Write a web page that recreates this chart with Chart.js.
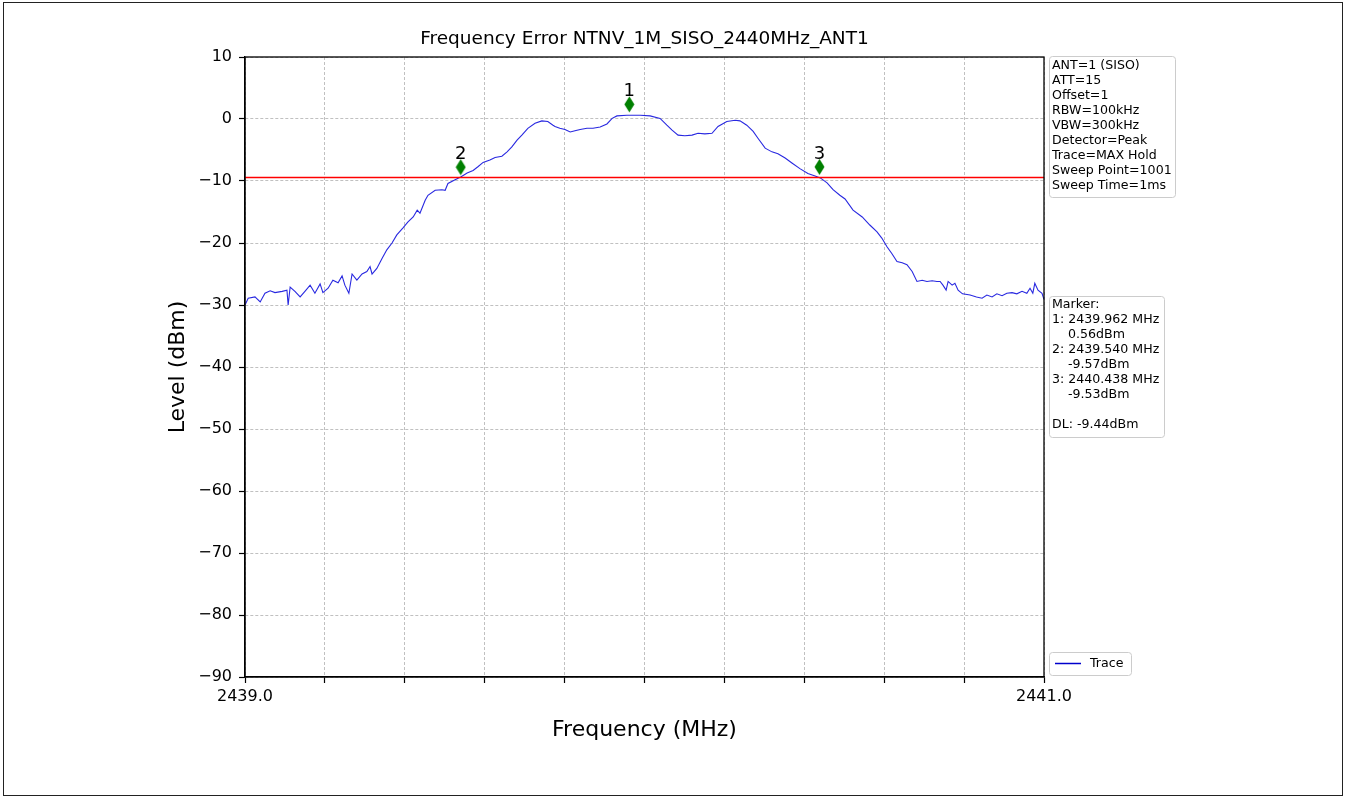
<!DOCTYPE html>
<html>
<head>
<meta charset="utf-8">
<script src="https://cdn.jsdelivr.net/npm/chart.js@4/dist/chart.umd.min.js"></script>
<style>
  html, body { margin: 0; padding: 0; background: #fff; }
  #wrap { position: relative; width: 1345px; height: 798px; }
  #frame { position: absolute; left: 3px; top: 2px; width: 1338px; height: 792px; border: 1px solid #222; pointer-events: none; }
</style>
</head>
<body>
<div id="wrap">
  <canvas id="c" width="1345" height="798"></canvas>
  <div id="frame"></div>
</div>
<script>
// ---- data ----
const chartTitle = "Frequency Error NTNV_1M_SISO_2440MHz_ANT1";
const xAxisTitle = "Frequency (MHz)";
const yAxisTitle = "Level (dBm)";

const freqMHz = [
  2439.000, 2439.008, 2439.025, 2439.038, 2439.050, 2439.063, 2439.075, 2439.093, 2439.105, 2439.108,
  2439.113, 2439.125, 2439.138, 2439.150, 2439.163, 2439.175, 2439.188, 2439.195, 2439.208, 2439.220,
  2439.233, 2439.243, 2439.250, 2439.260, 2439.268, 2439.280, 2439.293, 2439.305, 2439.313, 2439.318,
  2439.330, 2439.343, 2439.355, 2439.368, 2439.380, 2439.395, 2439.408, 2439.421, 2439.431, 2439.438,
  2439.451, 2439.458, 2439.476, 2439.493, 2439.501, 2439.508, 2439.526, 2439.541, 2439.556, 2439.571,
  2439.583, 2439.596, 2439.613, 2439.626, 2439.643, 2439.656, 2439.668, 2439.681, 2439.693, 2439.708,
  2439.726, 2439.743, 2439.758, 2439.771, 2439.776, 2439.788, 2439.801, 2439.814, 2439.826, 2439.839,
  2439.856, 2439.871, 2439.889, 2439.906, 2439.919, 2439.931, 2439.956, 2439.989, 2440.014, 2440.039,
  2440.056, 2440.069, 2440.084, 2440.101, 2440.119, 2440.134, 2440.151, 2440.169, 2440.184, 2440.206,
  2440.227, 2440.239, 2440.256, 2440.272, 2440.284, 2440.302, 2440.319, 2440.334, 2440.352, 2440.369,
  2440.389, 2440.409, 2440.427, 2440.440, 2440.457, 2440.472, 2440.489, 2440.502, 2440.522, 2440.545,
  2440.564, 2440.582, 2440.594, 2440.607, 2440.619, 2440.632, 2440.645, 2440.657, 2440.670, 2440.682,
  2440.695, 2440.707, 2440.720, 2440.732, 2440.740, 2440.747, 2440.755, 2440.760, 2440.770, 2440.777,
  2440.785, 2440.796, 2440.815, 2440.831, 2440.845, 2440.857, 2440.870, 2440.882, 2440.895, 2440.907,
  2440.920, 2440.932, 2440.945, 2440.957, 2440.965, 2440.972, 2440.977, 2440.985, 2440.995, 2441.000
];
const levelDbm = [
  -30.0, -28.9, -28.7, -29.5, -28.1, -27.7, -28.0, -27.8, -27.6, -30.0,
  -27.1, -27.8, -28.7, -27.8, -26.8, -28.1, -26.6, -28.0, -27.3, -26.0,
  -26.4, -25.3, -26.8, -28.1, -25.0, -26.0, -25.0, -24.6, -23.8, -25.0,
  -24.1, -22.5, -21.1, -20.0, -18.7, -17.6, -16.6, -15.8, -14.7, -15.2,
  -13.1, -12.3, -11.5, -11.4, -11.5, -10.4, -9.8, -9.3, -8.7, -8.3,
  -7.7, -7.0, -6.6, -6.2, -6.0, -5.3, -4.5, -3.4, -2.6, -1.5,
  -0.7, -0.3, -0.4, -1.0, -1.2, -1.5, -1.7, -2.1, -1.9, -1.7,
  -1.5, -1.5, -1.3, -0.8, 0.1, 0.5, 0.6, 0.6, 0.5, 0.1,
  -1.0, -1.8, -2.6, -2.7, -2.6, -2.3, -2.4, -2.3, -1.2, -0.4,
  -0.2, -0.3, -1.0, -2.0, -3.1, -4.7, -5.3, -5.6, -6.3, -7.1,
  -8.0, -8.8, -9.2, -9.5, -10.3, -11.4, -12.3, -12.9, -14.7, -15.8,
  -17.1, -18.2, -19.2, -20.6, -21.7, -23.0, -23.2, -23.5, -24.6, -26.2,
  -26.0, -26.2, -26.1, -26.2, -26.2, -26.8, -27.6, -26.2, -26.8, -26.5,
  -27.6, -28.2, -28.4, -28.7, -28.9, -28.4, -28.7, -28.2, -28.5, -28.1,
  -28.0, -28.2, -27.8, -28.1, -27.3, -28.1, -26.5, -27.6, -28.1, -29.1
];

const markerIds = ["1", "2", "3"];
const markerFreqMHz = [2439.962, 2439.540, 2440.438];
const markerLevelDbm = [0.56, -9.57, -9.53];
const displayLineDbm = -9.44;

const xMin = 2439.0, xMax = 2441.0, xStep = 0.2;
const xTickLabels = ["2439.0", "2441.0"];
const yMin = -90, yMax = 10, yStep = 10;

const settingsLines = [
  "ANT=1 (SISO)", "ATT=15", "Offset=1", "RBW=100kHz", "VBW=300kHz",
  "Detector=Peak", "Trace=MAX Hold", "Sweep Point=1001", "Sweep Time=1ms"
];
const legendLabel = "Trace";

// ---- derived ----
const markerLift = 1.8; // diamond drawn slightly above the marker level (dB)
const markerLines = ["Marker:"];
markerIds.forEach((id, i) => {
  markerLines.push(id + ": " + markerFreqMHz[i].toFixed(3) + " MHz");
  markerLines.push("    " + markerLevelDbm[i].toFixed(2) + "dBm");
});
markerLines.push("");
markerLines.push("DL: " + displayLineDbm.toFixed(2) + "dBm");

const FONT = "'DejaVu Sans', 'Liberation Sans', sans-serif";

// thin diamond point image
const dia = document.createElement('canvas');
dia.width = 11; dia.height = 17;
(function () {
  const g = dia.getContext('2d');
  g.fillStyle = '#008000';
  g.beginPath();
  g.moveTo(5.5, 0.5); g.lineTo(10.5, 8.5); g.lineTo(5.5, 16.5); g.lineTo(0.5, 8.5); g.closePath();
  g.fill();
})();

function roundRect(ctx, x, y, w, h, r) {
  ctx.beginPath();
  ctx.moveTo(x + r, y);
  ctx.lineTo(x + w - r, y); ctx.quadraticCurveTo(x + w, y, x + w, y + r);
  ctx.lineTo(x + w, y + h - r); ctx.quadraticCurveTo(x + w, y + h, x + w - r, y + h);
  ctx.lineTo(x + r, y + h); ctx.quadraticCurveTo(x, y + h, x, y + h - r);
  ctx.lineTo(x, y + r); ctx.quadraticCurveTo(x, y, x + r, y);
  ctx.closePath();
}

const decor = {
  id: 'decor',
  afterDraw(chart) {
    const ctx = chart.ctx;
    const a = chart.chartArea;
    const xs = chart.scales.x, ys = chart.scales.y;
    ctx.save();
    // frame
    ctx.strokeStyle = '#000'; ctx.lineWidth = 1.3; ctx.setLineDash([]);
    ctx.strokeRect(a.left, a.top, a.right - a.left, a.bottom - a.top);
    // title
    ctx.fillStyle = '#000';
    ctx.font = '18.5px ' + FONT;
    ctx.textAlign = 'center'; ctx.textBaseline = 'middle';
    ctx.fillText(chartTitle, (a.left + a.right) / 2, 39);
    // axis titles
    ctx.font = '22px ' + FONT;
    ctx.fillText(xAxisTitle, (a.left + a.right) / 2, 730);
    ctx.save();
    ctx.translate(178, (a.top + a.bottom) / 2);
    ctx.rotate(-Math.PI / 2);
    ctx.fillText(yAxisTitle, 0, 0);
    ctx.restore();
    // marker numbers
    ctx.font = '18px ' + FONT;
    ctx.textBaseline = 'alphabetic';
    markerIds.forEach((id, i) => {
      const px = xs.getPixelForValue(markerFreqMHz[i]);
      const py = ys.getPixelForValue(markerLevelDbm[i] + markerLift);
      ctx.fillText(id, px, py - 8);
    });
    // info boxes
    ctx.font = '12.6px ' + FONT;
    ctx.textAlign = 'left'; ctx.textBaseline = 'middle';
    const boxX = a.right + 5;
    const drawBox = (x, y, w, h) => {
      roundRect(ctx, x + 0.5, y + 0.5, w, h, 3);
      ctx.fillStyle = 'rgba(255,255,255,0.9)'; ctx.fill();
      ctx.strokeStyle = '#cccccc'; ctx.lineWidth = 1; ctx.stroke();
      ctx.fillStyle = '#000';
    };
    drawBox(boxX, 56, 126, 141);
    settingsLines.forEach((t, i) => ctx.fillText(t, boxX + 3, 66 + i * 15));
    drawBox(boxX, 296, 115, 141);
    markerLines.forEach((t, i) => ctx.fillText(t, boxX + 3, 305 + i * 15));
    drawBox(boxX, 652, 82, 23);
    ctx.strokeStyle = '#0000cc'; ctx.lineWidth = 1.5;
    ctx.beginPath(); ctx.moveTo(boxX + 6, 663.5); ctx.lineTo(boxX + 32, 663.5); ctx.stroke();
    ctx.fillStyle = '#000';
    ctx.fillText(legendLabel, boxX + 41, 664);
    ctx.restore();
  }
};

const near = (v, t) => Math.abs(v - t) < 1e-6;

new Chart(document.getElementById('c'), {
  type: 'line',
  data: {
    datasets: [
      {
        label: legendLabel,
        data: freqMHz.map((f, i) => ({ x: f, y: levelDbm[i] })),
        borderColor: '#2828e0', borderWidth: 1.1, pointRadius: 0, tension: 0, order: 2
      },
      {
        label: 'DL',
        data: [{ x: xMin, y: displayLineDbm }, { x: xMax, y: displayLineDbm }],
        borderColor: '#ff0000', borderWidth: 1.6, pointRadius: 0, order: 1
      },
      {
        label: 'Markers',
        type: 'scatter',
        data: markerFreqMHz.map((f, i) => ({ x: f, y: markerLevelDbm[i] + markerLift })),
        pointStyle: dia, pointRadius: 8, showLine: false, order: 0
      }
    ]
  },
  options: {
    responsive: false,
    animation: false,
    devicePixelRatio: 1,
    layout: { padding: { left: 0, right: 301, top: 57, bottom: 0 } },
    plugins: { legend: { display: false }, title: { display: false }, tooltip: { enabled: false } },
    scales: {
      x: {
        type: 'linear', min: xMin, max: xMax,
        afterFit: s => { s.height = 121; },
        afterBuildTicks: s => {
          const t = [];
          for (let i = 0; i <= Math.round((xMax - xMin) / xStep); i++) t.push({ value: +(xMin + i * xStep).toFixed(6) });
          s.ticks = t;
        },
        ticks: {
          autoSkip: false, maxRotation: 0, padding: 4, color: '#000',
          font: { family: FONT, size: 16 },
          callback: v => near(v, xMin) ? xTickLabels[0] : (near(v, xMax) ? xTickLabels[1] : '')
        },
        grid: { color: '#b0b0b0', lineWidth: 0.8, tickColor: '#000', tickLength: 6, tickWidth: 1.2, tickBorderDash: [] },
        border: { display: true, color: '#000', width: 1.3, dash: [3, 2] }
      },
      y: {
        type: 'linear', min: yMin, max: yMax,
        afterFit: s => { s.width = 245; },
        ticks: {
          stepSize: yStep, padding: 7, color: '#000',
          font: { family: FONT, size: 16 },
          callback: v => String(v).replace('-', '\u2212')
        },
        grid: { color: '#b0b0b0', lineWidth: 0.8, tickColor: '#000', tickLength: 6, tickWidth: 1.2, tickBorderDash: [] },
        border: { display: true, color: '#000', width: 1.3, dash: [3, 2] }
      }
    }
  },
  plugins: [decor]
});
</script>
</body>
</html>
